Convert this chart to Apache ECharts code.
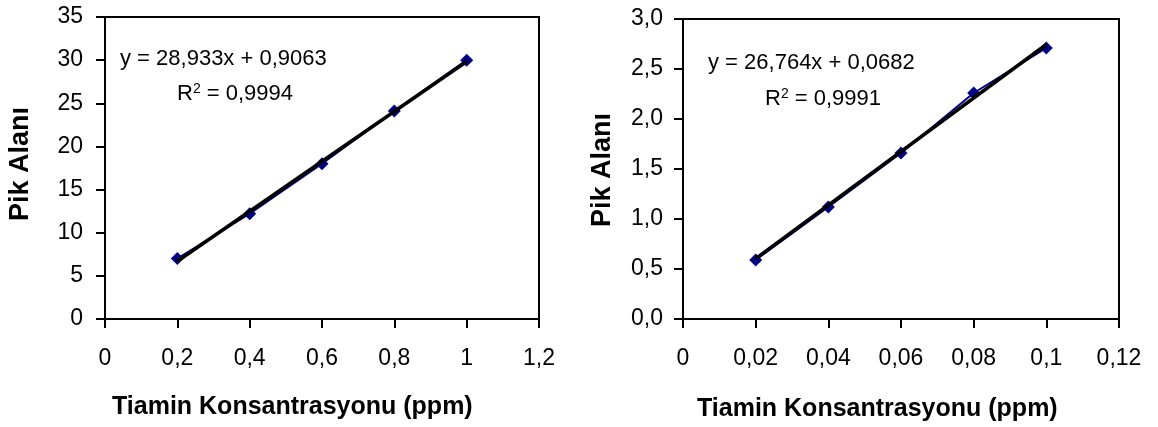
<!DOCTYPE html>
<html><head><meta charset="utf-8">
<script src="https://cdn.jsdelivr.net/npm/echarts@6/dist/echarts.min.js"></script>
<style>html,body{margin:0;padding:0;background:#fff}#c{width:1158px;height:427px}</style>
</head><body><div id="c"></div>
<script>
// Left chart data
const xLeft = [0.2, 0.4, 0.6, 0.8, 1.0];
const yLeft = [7.0, 12.2, 18.0, 24.1, 30.0];
const trendLeft = [[0.2, 6.69], [1.0, 29.84]];
const xTicksLeft = ['0', '0,2', '0,4', '0,6', '0,8', '1', '1,2'];
const yTicksLeft = ['0', '5', '10', '15', '20', '25', '30', '35'];
// Right chart data
const xRight = [0.02, 0.04, 0.06, 0.08, 0.1];
const yRight = [0.59, 1.12, 1.66, 2.26, 2.71];
const trendRight = [[0.02, 0.604], [0.1, 2.745]];
const xTicksRight = ['0', '0,02', '0,04', '0,06', '0,08', '0,1', '0,12'];
const yTicksRight = ['0,0', '0,5', '1,0', '1,5', '2,0', '2,5', '3,0'];
const eqLeft = ['y = 28,933x + 0,9063', '0,9994'];
const eqRight = ['y = 26,764x + 0,0682', '0,9991'];
const xTitle = 'Tiamin Konsantrasyonu (ppm)';
const yTitle = 'Pik Alanı';

const FONT = '"Liberation Sans", Arial, sans-serif';
const FS = 23;
const EQ = 22;
const TT = 25;
const YT = 27;
const chart = echarts.init(document.getElementById('c'), null, {renderer: 'canvas'});

function xAxis(gi, max, interval, labels) {
  return {
    type: 'value', gridIndex: gi, min: 0, max: max, interval: interval,
    splitLine: {show: false},
    axisLine: {show: true, onZero: false, lineStyle: {color: '#000', width: 2}},
    axisTick: {show: true, length: 9, lineStyle: {color: '#000', width: 2}},
    axisLabel: {margin: 28, color: '#000', fontFamily: FONT, fontSize: FS, showMinLabel: true, showMaxLabel: true,
      formatter: v => labels[Math.round(v / interval)]}
  };
}
function yAxis(gi, max, interval, labels, margin) {
  return {
    type: 'value', gridIndex: gi, min: 0, max: max, interval: interval,
    splitLine: {show: false},
    axisLine: {show: true, onZero: false, lineStyle: {color: '#000', width: 2}},
    axisTick: {show: true, length: 9, lineStyle: {color: '#000', width: 2}},
    axisLabel: {margin: margin, color: '#000', fontFamily: FONT, fontSize: FS,
      formatter: v => labels[Math.round(v / interval)]}
  };
}
function pts(xs, ys) { return xs.map((x, i) => [x, ys[i]]); }
function eqText(left, top, eq) {
  return [
    {type: 'text', left: left[0], top: top[0], style: {text: eq[0], font: EQ + 'px ' + FONT, fill: '#000'}},
    {type: 'text', left: left[1], top: top[1], style: {
      text: 'R{s|2} = ' + eq[1], font: EQ + 'px ' + FONT, fill: '#000',
      rich: {s: {fontSize: 14, fontFamily: FONT, verticalAlign: 'top', padding: [0, 0, 9, 0]}}}}
  ];
}

chart.setOption({
  animation: false,
  backgroundColor: '#fff',
  grid: [
    {left: 105, top: 17, width: 434, height: 302, show: true, borderColor: '#000', borderWidth: 2, backgroundColor: 'transparent'},
    {left: 683, top: 19, width: 436, height: 300, show: true, borderColor: '#000', borderWidth: 2, backgroundColor: 'transparent'}
  ],
  xAxis: [xAxis(0, 1.2, 0.2, xTicksLeft), xAxis(1, 0.12, 0.02, xTicksRight)],
  yAxis: [yAxis(0, 35, 5, yTicksLeft, 22), yAxis(1, 3, 0.5, yTicksRight, 20)],
  series: [
    {type: 'line', xAxisIndex: 0, yAxisIndex: 0, data: pts(xLeft, yLeft), symbol: 'diamond', symbolSize: 13,
      lineStyle: {color: '#000080', width: 2}, itemStyle: {color: '#000080'}, z: 2},
    {type: 'line', xAxisIndex: 0, yAxisIndex: 0, data: trendLeft, symbol: 'none',
      lineStyle: {color: '#000', width: 3.5}, z: 3},
    {type: 'line', xAxisIndex: 1, yAxisIndex: 1, data: pts(xRight, yRight), symbol: 'diamond', symbolSize: 13,
      lineStyle: {color: '#000080', width: 2}, itemStyle: {color: '#000080'}, z: 2},
    {type: 'line', xAxisIndex: 1, yAxisIndex: 1, data: trendRight, symbol: 'none',
      lineStyle: {color: '#000', width: 3.5}, z: 3}
  ],
  graphic: [
    ...eqText([120, 177], [48, 82], eqLeft),
    ...eqText([708, 765], [52, 87], eqRight),
    {type: 'text', left: 112, top: 395, style: {text: xTitle, font: 'bold ' + TT + 'px ' + FONT, fill: '#000'}},
    {type: 'text', left: 697, top: 397, style: {text: xTitle, font: 'bold ' + TT + 'px ' + FONT, fill: '#000'}},
    {type: 'text', x: 21, y: 164, rotation: Math.PI / 2, style: {text: yTitle, font: 'bold ' + YT + 'px ' + FONT, fill: '#000', align: 'center', verticalAlign: 'middle'}},
    {type: 'text', x: 603, y: 170, rotation: Math.PI / 2, style: {text: yTitle, font: 'bold ' + YT + 'px ' + FONT, fill: '#000', align: 'center', verticalAlign: 'middle'}}
  ]
});
</script></body></html>
